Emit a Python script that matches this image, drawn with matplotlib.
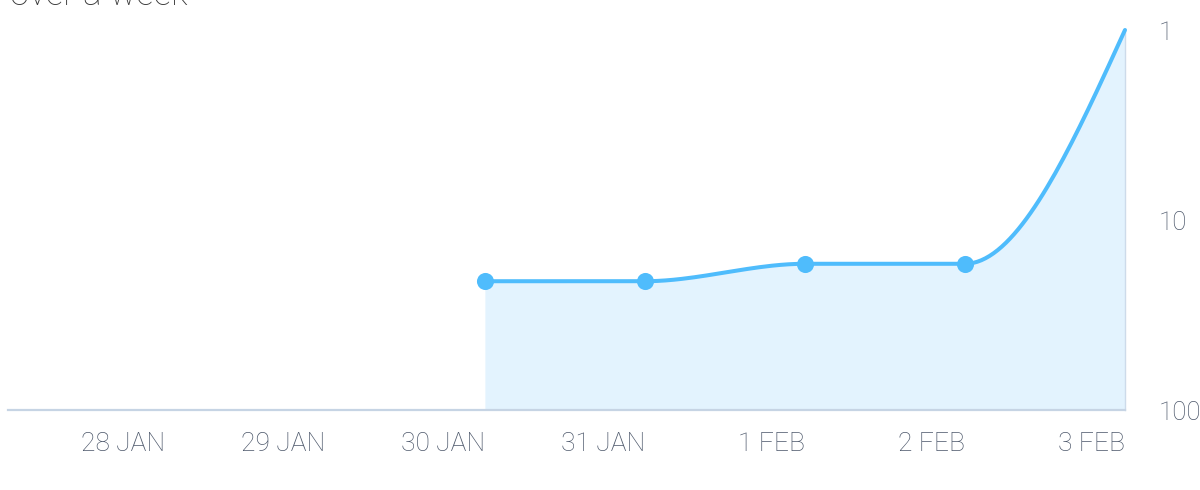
import matplotlib
matplotlib.use('Agg')
import matplotlib.pyplot as plt
import numpy as np
from matplotlib.ticker import NullLocator, FixedLocator

plt.rcParams['font.family'] = ['Roboto', 'DejaVu Sans']

# data
day_labels = ['28 JAN', '29 JAN', '30 JAN', '31 JAN', '1 FEB', '2 FEB', '3 FEB']
rank_days = [2, 3, 4, 5, 6]          # index into day_labels
rank_values = [21, 21, 17, 17, 1]
rank_ticks = [1, 10, 100]

line_col = '#4fbcfc'
fill_col = '#e3f3fe'
text_col = '#4c576a'


def monotone_curve(x, y, n=40):
    # monotone cubic (d3 curveMonotoneX style), done on log10 of the rank
    x = np.asarray(x, float)
    y = np.log10(np.asarray(y, float))
    h = np.diff(x)
    s = np.diff(y) / h
    t = np.zeros(len(x))
    for i in range(1, len(x) - 1):
        p = (s[i - 1] * h[i] + s[i] * h[i - 1]) / (h[i - 1] + h[i])
        t[i] = (np.sign(s[i - 1]) + np.sign(s[i])) * min(abs(s[i - 1]), abs(s[i]), 0.5 * abs(p))
    t[0] = (3 * s[0] - t[1]) / 2
    t[-1] = (3 * s[-1] - t[-2]) / 2
    xs, ys = [], []
    for i in range(len(x) - 1):
        u = np.linspace(0, 1, n)
        h00 = 2 * u**3 - 3 * u**2 + 1
        h10 = u**3 - 2 * u**2 + u
        h01 = -2 * u**3 + 3 * u**2
        h11 = u**3 - u**2
        yy = h00 * y[i] + h10 * h[i] * t[i] + h01 * y[i + 1] + h11 * h[i] * t[i + 1]
        xs.append(x[i] + u * h[i])
        ys.append(yy)
    return np.concatenate(xs), 10 ** np.concatenate(ys)


fig = plt.figure(figsize=(12, 4.9), dpi=100)
ax = fig.add_axes([8 / 1200, 1 - 410 / 490, (1125 - 8) / 1200, 380 / 490])

cx, cy = monotone_curve(rank_days, rank_values)
ax.fill_between(cx, cy, 100, color=fill_col, lw=0, zorder=1)
ax.plot(cx, cy, color=line_col, lw=2.9, solid_capstyle='round', zorder=3, clip_on=False)
ax.plot(rank_days[:-1], rank_values[:-1], 'o', color=line_col, ms=12.3, mec='none', zorder=4)

ax.set_yscale('log')
ax.set_ylim(100, 1)
ax.set_xlim(-0.98, 6)

ax.yaxis.set_major_locator(FixedLocator(rank_ticks))
ax.yaxis.set_minor_locator(NullLocator())
ax.set_yticklabels([str(v) for v in rank_ticks])
ax.yaxis.tick_right()
ax.tick_params(axis='y', length=0, pad=24, labelsize=18.5, labelcolor=text_col)

ax.set_xticks(range(len(day_labels)))
ax.set_xticklabels(day_labels, ha='right')
ax.tick_params(axis='x', length=0, pad=16, labelsize=19, labelcolor=text_col)
for lab in ax.get_xticklabels() + ax.get_yticklabels():
    lab.set_fontweight('light')

for side in ['left', 'top']:
    ax.spines[side].set_visible(False)
ax.spines['bottom'].set_color('#c6d4e4')
ax.spines['bottom'].set_linewidth(1.6)
ax.spines['right'].set_color('#cddbea')
ax.spines['right'].set_linewidth(1.0)

fig.text(10 / 1200, 1 - 5 / 490, 'over a week', fontsize=25, color='#3a3a3a',
         va='baseline', ha='left', fontweight='light')

fig.savefig('out.png', dpi=100)
